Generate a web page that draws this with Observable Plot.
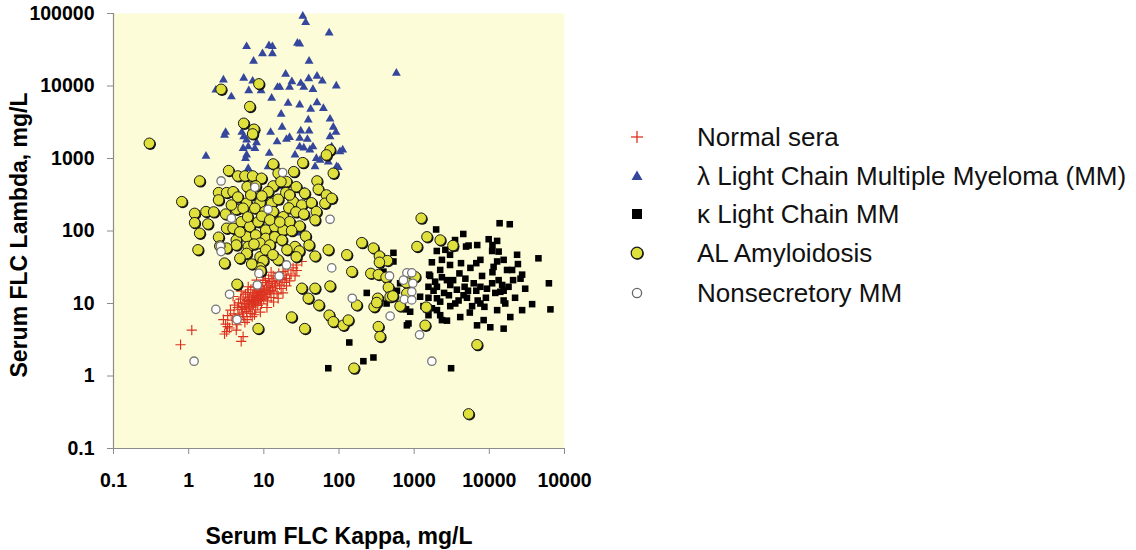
<!DOCTYPE html>
<html>
<head>
<meta charset="utf-8">
<script src="https://cdn.jsdelivr.net/npm/d3@7"></script>
<script src="https://cdn.jsdelivr.net/npm/@observablehq/plot@0.6"></script>
<style>
  html, body { margin: 0; padding: 0; background: #ffffff; }
  #wrap { position: relative; width: 1136px; height: 550px; overflow: hidden; font-family: "Liberation Sans", Arial, sans-serif; }
  #chart { position: absolute; left: 0; top: 0; }
  .leg-item { position: absolute; left: 620px; height: 34px; display: flex; align-items: center; transform: translateY(-50%); }
  .leg-item svg { width: 34px; height: 34px; margin-right: 43px; }
  .leg-item span { font-size: 26px; color: #111; white-space: nowrap; }
</style>
</head>
<body>
<div id="wrap">
  <div id="chart"></div>
  <div id="legend"></div>
</div>
<script>
// ---- Series names, colours, ticks ----
const seriesNames = [
  "Normal sera",
  "λ Light Chain Multiple Myeloma (MM)",
  "κ Light Chain MM",
  "AL Amyloidosis",
  "Nonsecretory MM"
];
const xTicks = [0.1, 1, 10, 100, 1000, 10000, 100000];
const xTickLabels = ["0.1", "1", "10", "100", "1000", "10000", "10000"];
const yTicks = [0.1, 1, 10, 100, 1000, 10000, 100000];
const yTickLabels = ["0.1", "1", "10", "100", "1000", "10000", "100000"];
const xTitle = "Serum FLC Kappa, mg/L";
const yTitle = "Serum FLC Lambda, mg/L";

// ---- Data: [kappa mg/L, lambda mg/L] ----
const normalSera = [
  [3.1,5.2],[3.3,6.8],[3.5,4.6],[3.6,8.1],[3.8,5.9],[4.0,7.2],[4.1,9.5],[4.2,6.3],[4.4,5.1],[4.5,8.8],
  [4.6,10.2],[4.7,7.0],[4.8,6.1],[4.9,11.5],[5.0,8.3],[5.1,9.1],[5.2,7.4],[5.3,12.3],[5.4,6.6],[5.5,10.0],
  [5.6,8.7],[5.7,13.5],[5.8,9.6],[5.9,7.8],[6.0,11.0],[6.1,14.2],[6.2,8.4],[6.3,10.6],[6.4,12.0],[6.5,9.2],
  [6.6,7.3],[6.7,15.5],[6.8,11.4],[6.9,10.1],[7.0,8.9],[7.1,13.0],[7.2,12.4],[7.3,9.8],[7.4,16.8],[7.5,11.0],
  [7.6,14.0],[7.7,10.4],[7.8,8.2],[7.9,12.8],[8.0,18.0],[8.1,11.8],[8.2,13.6],[8.3,9.4],[8.4,15.0],[8.5,12.2],
  [8.6,10.8],[8.8,14.6],[8.9,17.2],[9.0,11.3],[9.2,13.1],[9.3,9.9],[9.4,16.0],[9.6,12.7],[9.7,19.5],[9.8,14.1],
  [10.0,11.6],[10.2,15.4],[10.3,13.3],[10.5,20.8],[10.7,12.3],[10.9,17.6],[11.0,14.8],[11.2,10.9],[11.4,16.4],[11.6,22.0],
  [11.8,13.9],[12.0,18.6],[12.3,15.2],[12.5,12.1],[12.8,20.0],[13.0,16.8],[13.3,24.0],[13.6,14.5],[14.0,19.0],[14.3,17.5],
  [14.7,22.5],[15.0,13.6],[15.4,20.5],[15.8,26.0],[16.2,18.0],[16.6,23.0],[17.0,16.1],[17.5,21.5],[18.0,27.5],[18.6,19.5],
  [19.2,24.5],[20.0,22.0],[21.0,29.0],[22.0,20.5],[23.0,25.5],[24.5,31.0],[26.0,24.0],[27.5,28.5],[3.9,12.5],[4.3,4.3],
  [5.0,14.8],[5.6,5.5],[6.2,17.0],[7.0,6.6],[8.0,21.0],[9.0,7.6],[10.0,24.5],[11.0,8.8],[12.5,27.0],[13.5,10.5],
  [15.5,11.8],[18.0,14.0],[20.0,17.5],[3.0,3.8],[2.9,6.0],[6.0,6.0],[7.5,7.0],
  [0.78,2.7],[1.1,4.3],[3.2,4.1],[3.3,4.8],[5.3,3.5],[5.0,3.0],[4.3,5.9],[32,38],[27,34]
];

const lambdaMM = [
  [33,92000],[36,75000],[74,54000],[5.9,35000],[11.7,36000],[13,35000],[28,39000],[30,38000],[9.6,28000],[13,28000],
  [7.3,22000],[40,22000],[580,15000],[19.5,14600],[5.4,12800],[7.1,11700],[2.9,12100],[23.6,11500],[31,10900],[39.5,12600],
  [51,13700],[60,11700],[15.2,9600],[16.3,9600],[22,9600],[34,9600],[45,9000],[92,10000],[2.3,8800],[6.3,8600],
  [9.2,8600],[3.7,7100],[12.7,6800],[21,5800],[30,5500],[51,5900],[42,4800],[62,4900],[17,4100],[39,3400],
  [76,3500],[3.1,2300],[3.0,2100],[5.1,2300],[5.4,2000],[12.3,2300],[17.5,2700],[31,2400],[40,2400],[84,2700],
  [91,2300],[76,2000],[20,1840],[22,1960],[30,1900],[38,1840],[15,1700],[5.9,1800],[6.2,1450],[8,1650],
  [5.3,1380],[7.6,1380],[5.9,1120],[5.7,1000],[45,1450],[41,1310],[112,1310],[80,1450],[11.8,1180],[26,1120],
  [50,1000],[56,950],[1.7,1080],[6.2,730],[98,750],[72,900],[30,1450],[34,1400],[11.4,770],[48,770],
  [93,770],[16,410],[33,350],[8.9,310],[17,103],[18,75],[35,350],[30,94],[103,1240]
];

const kappaMM = [
  [13700,128],[18700,124],[1960,105],[4500,91],[9800,77],[12700,73],[4900,61],[2000,53],[2600,55],[3000,47],
  [3500,58],[5300,63],[6900,64],[10900,53],[13300,52],[15500,40],[23400,47],[45000,42],[530,50],[1720,37],
  [2340,40],[3000,34],[4200,36],[6700,36],[7600,40],[11400,32],[12700,38],[17200,29],[20100,29],[27300,25],
  [26000,22],[1630,24],[2220,29],[2340,23],[2730,21],[3020,18],[4690,17],[5200,15],[6700,15],[7600,17],
  [9300,16],[10900,19],[13300,21],[14800,18],[14000,14.5],[15500,15],[20700,21],[62000,19],[234,14],[650,19],
  [590,15],[760,19],[1200,12.4],[1550,17],[1810,15],[2010,17],[1550,12],[2010,11.8],[2220,10.6],[3020,9.2],
  [3520,10],[3900,11],[4540,13],[5040,12],[5900,9.2],[7600,10],[8600,9],[12700,8.1],[15500,11],[16300,10],
  [27300,8.1],[37100,9.8],[65000,8.3],[780,8.3],[885,7.7],[1330,9.2],[1720,8.6],[2010,8.1],[2220,6.9],[2340,5.9],
  [2730,5.8],[4100,6.5],[6860,5],[8400,5.9],[10300,4.7],[15500,4.5],[800,5],[1550,6.9],[137,2.9],[211,1.6],
  [287,1.8],[3100,1.28],[72,1.28],[1580,25],[11000,64],[3500,75],[530,38],[390,27.5],[430,10],[840,5.3],
  [2500,14],[3300,21],[4000,26],[4800,22],[5600,31],[6200,19],[8000,24],[9000,12],[11000,27],[12000,14],
  [18000,17],[22000,12],[30000,16],[1900,20],[2900,13],[3700,15.5],[5500,7.5],[7000,11],[19000,6.5],[24000,35]
];

const alAmyloidosis = [
  [0.30,1620],[2.7,9000],[8.6,10700],[6.5,5200],[5.4,3060],[7.4,2530],[7.1,2180],[76,1310],[68,1120],[13.3,840],
  [33,875],[84,625],[1.4,490],[3.4,680],[4.5,574],[5.6,574],[7.1,574],[9.3,533],[15.5,625],[25,658],
  [51,490],[20,479],[2.5,338],[3.2,338],[3.9,348],[6.0,408],[7.8,418],[13.3,418],[16.9,479],[27,408],
  [35,331],[53,376],[68,314],[11.4,348],[19.6,338],[0.81,254],[2.5,268],[5.9,241],[8.9,245],[12.7,241],
  [15.5,274],[24.6,254],[32,228],[43,245],[65,241],[80,282],[1.2,175],[1.7,185],[4.3,199],[5.3,206],
  [7.6,206],[10.3,185],[13.3,185],[18.1,157],[50,185],[48,142],[1.2,130],[1.8,125],[3.2,109],[3.9,109],
  [5.0,134],[6.5,115],[8.4,134],[10.6,103],[14,115],[22,134],[30,117],[1.4,93],[2.5,82],[4.3,75],
  [5.9,83],[7.8,88],[10.6,79],[14,83],[18.1,103],[23.4,101],[4.3,64],[6.2,61],[8.9,68],[12,64],
  [1.33,55],[3.2,58],[5.9,49],[8.9,44],[9.8,39],[26,61],[29.6,53],[27,44],[15.5,40],[3.0,36],
  [8.9,31],[48,45],[72,55],[127,47],[148,27.5],[4.4,18.4],[8.4,4.5],[9.1,28],[201,69],[287,58],
  [345,45],[440,39],[265,26],[334,25],[423,23],[454,16.7],[479,12.4],[328,11.8],[293,9.0],[172,9.5],
  [32,16.2],[48,16.2],[76,17.4],[39,11.8],[54,9.5],[74,6.9],[84,5.6],[114,5.0],[133,5.9],[23.4,6.5],
  [35,4.5],[334,4.8],[352,3.5],[158,1.28],[1240,150],[1480,83],[2220,75],[3280,63],[1090,61],[345,37],
  [1030,23.4],[520,12.7],[800,13.8],[318,10.3],[650,9.2],[1450,8.9],[1400,5.0],[6860,2.7],[5300,0.30],[782,19.4],
  [4.5,294],[6.7,314],[9.4,304],[21.5,208],[26.7,183],[34,171],[6.1,156],[9.4,160],[12,142],[16.3,133],
  [4.8,97],[7.4,66],[17.4,75],[10.6,55],[13.2,47],[20.3,55],[3.7,228],[3.1,171],[2.15,183],[36,85],
  [2.6,62],[6.9,35],[4.8,42],[40,64],[22,314]
];

const nonsecretoryMM = [
  [2.7,490],[17.8,640],[7.6,400],[11.4,199],[3.7,150],[76,145],[2.65,62],[2.7,52],[80,31],[20,34],
  [16,24],[8.6,26],[8.2,18],[3.5,13.4],[2.3,8.3],[4.4,6.0],[1.18,1.6],[150,11.8],[479,6.7],[800,26.5],
  [930,26.5],[720,21],[960,19],[930,14.5],[740,11.4],[930,11.2],[470,24],[1180,3.7],[1720,1.6]
];

// ---- Build tables for Plot ----
const rows = arr => arr.map(([kappa, lambda]) => ({kappa, lambda}));
const normalRows = rows(normalSera);
const lambdaRows = rows(lambdaMM);
const kappaRows = rows(kappaMM);
const alRows = rows(alAmyloidosis);
const nonsecRows = rows(nonsecretoryMM);

const xFmt = new Map(xTicks.map((t, i) => [t, xTickLabels[i]]));
const yFmt = new Map(yTicks.map((t, i) => [t, yTickLabels[i]]));

const bg = "#fdfcd8";
const axisGray = "#8c8c8c";
const redCross = "#dc3220";
const blueTri = "#34479c";
const yellowFill = "#e0e03c";

const chart = Plot.plot({
  width: 600,
  height: 550,
  marginLeft: 113,
  marginRight: 36,
  marginTop: 13,
  marginBottom: 102,
  x: {type: "log", domain: [0.1, 100000]},
  y: {type: "log", domain: [0.1, 100000]},
  style: {fontFamily: "'Liberation Sans', Arial, sans-serif", background: "transparent", color: "#000"},
  marks: [
    Plot.frame({fill: bg, stroke: null}),
    Plot.axisX({ticks: xTicks, tickFormat: d => xFmt.get(d), tickSize: 6, tickPadding: 19,
      fontSize: 19.5, fontWeight: "bold", stroke: axisGray, label: null}),
    Plot.axisY({ticks: yTicks, tickFormat: d => yFmt.get(d), tickSize: 6, tickPadding: 13,
      fontSize: 19.5, fontWeight: "bold", stroke: axisGray, label: null}),
    Plot.ruleX([0.1], {stroke: axisGray, strokeWidth: 1.2}),
    Plot.ruleY([0.1], {stroke: axisGray, strokeWidth: 1.2}),
    Plot.text([xTitle], {text: d => d, frameAnchor: "bottom", dy: 95, fontSize: 23, fontWeight: "bold"}),
    Plot.text([yTitle], {text: d => d, frameAnchor: "left", textAnchor: "middle", rotate: -90, dx: -94, dy: 4, fontSize: 23, fontWeight: "bold"}),
    // Normal sera: red crosses
    Plot.dot(normalRows, {x: "kappa", y: "lambda", symbol: "plus", r: 3.4, stroke: redCross, strokeWidth: 1.15}),
    // lambda LC MM: blue triangles
    Plot.dot(lambdaRows, {x: "kappa", y: "lambda", symbol: "triangle", r: 3.3, fill: blueTri, stroke: null}),
    // kappa LC MM: black squares
    Plot.dot(kappaRows, {x: "kappa", y: "lambda", symbol: "square", r: 3.7, fill: "#000", stroke: null}),
    // AL amyloidosis: yellow circles with dark shadow
    Plot.dot(alRows, {x: "kappa", y: "lambda", r: 5.6, fill: "#111", stroke: null, dx: 1, dy: 1}),
    Plot.dot(alRows, {x: "kappa", y: "lambda", r: 5.3, fill: yellowFill, stroke: "#1a1a1a", strokeWidth: 1}),
    // Nonsecretory MM: white circles
    Plot.dot(nonsecRows, {x: "kappa", y: "lambda", r: 4.2, fill: "#fff", stroke: "#777", strokeWidth: 1.3})
  ]
});
document.getElementById("chart").appendChild(chart);

// ---- Legend ----
const legendY = [137, 176, 214, 253, 293];
const legendSymbols = [
  `<line x1="11" y1="17" x2="23" y2="17" stroke="${redCross}" stroke-width="1.3"/><line x1="17" y1="11" x2="17" y2="23" stroke="${redCross}" stroke-width="1.3"/>`,
  `<path d="M17,11.5 L22.5,21 L11.5,21 Z" fill="${blueTri}"/>`,
  `<rect x="12" y="12" width="10" height="10" fill="#000"/>`,
  `<circle cx="17.6" cy="17.6" r="6.2" fill="#111"/><circle cx="17" cy="17" r="5.8" fill="${yellowFill}" stroke="#1a1a1a" stroke-width="1.2"/>`,
  `<circle cx="17" cy="17" r="4.6" fill="#fff" stroke="#666" stroke-width="1.3"/>`
];
const legend = document.getElementById("legend");
seriesNames.forEach((name, i) => {
  const item = document.createElement("div");
  item.className = "leg-item";
  item.style.top = legendY[i] + "px";
  item.innerHTML = `<svg viewBox="0 0 34 34">${legendSymbols[i]}</svg><span>${name}</span>`;
  legend.appendChild(item);
});
</script>
</body>
</html>
